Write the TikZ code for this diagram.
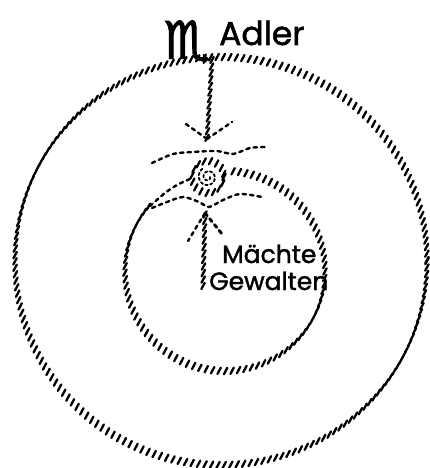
\documentclass[tikz,border=0pt]{standalone}
\usepackage{fontspec}
\newfontfamily\hand{Poppins}[FakeBold=1.6]
\newfontfamily\symb{DejaVu Sans}[FakeBold=2]
\usetikzlibrary{decorations.markings,calc}
\tikzset{
hatch/.style={
decorate,
decoration={markings,
mark=between positions 0 and 1 step 6.5pt with {\pgftransformresetnontranslations
\draw[line width=2.3pt,line cap=round](-1.7pt,-3.2pt)--(1.7pt,3.2pt);}}
},
wave/.style={
line width=2.4pt,
line cap=round,
dash pattern=on 3.5pt off 4pt
},
word/.style={
font=\hand\fontsize{25}{27}\selectfont,
inner sep=0pt
}
}
\begin{document}
\begin{tikzpicture}[x=1pt,y=-1pt]
\useasboundingbox (0,0) rectangle (429,468);
\node[word,font=\hand\fontsize{33}{35}\selectfont,anchor=base west](adler) at (219,45){Adler};
\node[inner sep=0pt,font=\symb\fontsize{52}{52}\selectfont](scorp) at (187,42){♏};
\node[word,anchor=base west](maechte) at (222,263){Mächte};
\node[word,anchor=base west](gewalten) at (209,290){Gewalten};
\coordinate (core) at (208,177);
\coordinate (inner) at (225,271);
\coordinate (top) at (212,60);
\coordinate (tipA) at (207,139);
\coordinate (low) at (203,286);
\coordinate (tipB) at (205,213);

% outer circle
\path[hatch](221,261) ellipse[x radius=206,y radius=204];
% inner circle, open at the upper left
\path[hatch](inner) ++(-140:100) arc[start angle=-140,end angle=-449,radius=100];
% the core
\path[hatch](core) circle[radius=16];
\draw[wave,line width=1.8pt,dash pattern=on 2.5pt off 2.5pt] plot[smooth,domain=0:600,samples=50]({208+(2+\x/75)*cos(\x)},{177+(2+\x/75)*sin(\x)});

% lines round the core
\draw[wave] plot[smooth] coordinates{(152,163)(173,154)(193,152)(217,151)(233,154)(250,148)(266,147)};
\draw[wave] plot[smooth] coordinates{(150,206)(165,193)(177,185)(190,179)};
\draw[wave] plot[smooth] coordinates{(152,208)(167,202)(183,197)(199,202)(209,207)(223,200)(240,194)(262,197)};

% arrows
\path[hatch](top)--(tipA);
\draw[wave](tipA)--++(-21,-15);
\draw[wave](tipA)--++(25,-17);
\path[hatch](low)--(tipB);
\draw[wave](tipB)--++(-17,28);
\draw[wave,line width=3pt](tipB)--++(17,21);
\end{tikzpicture}
\end{document}
